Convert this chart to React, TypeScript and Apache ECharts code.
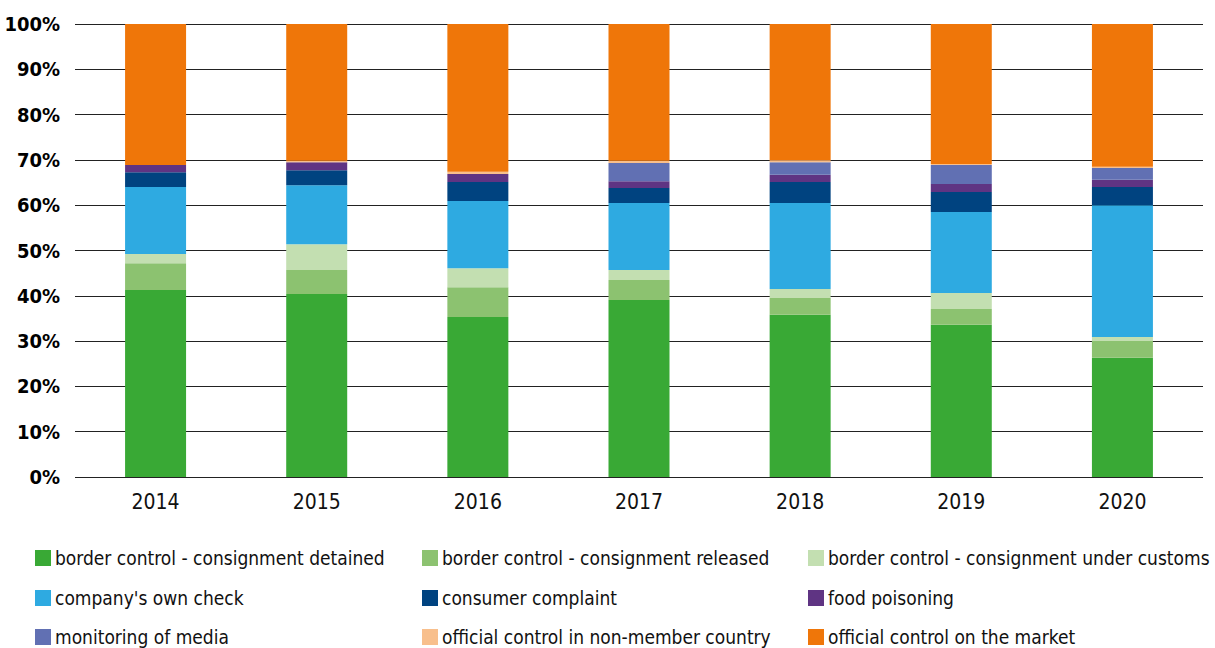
import React, { useEffect, useRef } from "react";
import * as echarts from "echarts";

const years = ["2014", "2015", "2016", "2017", "2018", "2019", "2020"];
const yTicks = [0, 10, 20, 30, 40, 50, 60, 70, 80, 90, 100];

const seriesNames = [
  "border control - consignment detained",
  "border control - consignment released",
  "border control - consignment under customs",
  "company's own check",
  "consumer complaint",
  "food poisoning",
  "monitoring of media",
  "official control in non-member country",
  "official control on the market",
];

const colors = [
  "#39a935",
  "#8cc270",
  "#c3dfb1",
  "#2eaae1",
  "#004380",
  "#5f3483",
  "#6170b3",
  "#f8bf8c",
  "#ef7609",
];

const detained = [41.3, 40.4, 35.3, 39.1, 35.8, 33.6, 26.3];
const released = [5.9, 5.3, 6.6, 4.4, 3.7, 3.5, 3.7];
const underCustoms = [2.0, 5.7, 4.2, 2.2, 2.0, 3.5, 0.9];
const ownCheck = [14.8, 13.0, 14.8, 14.8, 19.0, 17.9, 29.1];
const consumerComplaint = [3.3, 3.3, 4.2, 3.3, 4.6, 4.4, 4.0];
const foodPoisoning = [1.6, 1.8, 1.8, 1.5, 1.6, 1.8, 1.6];
const media = [0, 0, 0, 4.0, 2.8, 4.2, 2.6];
const nonMember = [0, 0.3, 0.5, 0.5, 0.4, 0.2, 0.3];
const market = [31.1, 30.2, 32.6, 30.2, 30.1, 30.9, 31.5];

const seriesData = [
  detained,
  released,
  underCustoms,
  ownCheck,
  consumerComplaint,
  foodPoisoning,
  media,
  nonMember,
  market,
];

const FONT = "'DejaVu Sans Condensed', 'Liberation Sans Narrow', 'Roboto', sans-serif";

export default function App() {
  const ref = useRef<HTMLDivElement>(null);

  useEffect(() => {
    if (!ref.current) return;
    const chart = echarts.init(ref.current, undefined, { renderer: "svg" });

    const colLeft = [35, 422, 808];
    const rowCenter = [558, 598, 637];

    const legends = seriesNames.map((name, i) => ({
      orient: "horizontal",
      left: colLeft[i % 3],
      top: rowCenter[Math.floor(i / 3)] - 10,
      padding: 0,
      itemWidth: 16,
      itemHeight: 16,
      icon: "rect",
      selectedMode: false,
      textStyle: {
        fontFamily: FONT,
        fontSize: 19,
        lineHeight: 20,
        color: "#111",
        padding: [0, 0, 0, -1],
      },
      data: [name],
    }));

    chart.setOption({
      animation: false,
      backgroundColor: "#ffffff",
      grid: { left: 75, right: 12, top: 24, bottom: 171, containLabel: false },
      legend: legends,
      xAxis: {
        type: "category",
        data: years,
        axisLine: { show: false },
        axisTick: { show: false },
        axisLabel: { fontFamily: FONT, fontSize: 21, color: "#111", margin: 14 },
      },
      yAxis: {
        type: "value",
        min: 0,
        max: 100,
        interval: 10,
        axisLine: { show: false },
        axisTick: { show: false },
        axisLabel: {
          fontFamily: FONT,
          fontSize: 20,
          fontWeight: "bold",
          color: "#000",
          margin: 15,
          formatter: (v: number) => (yTicks.includes(v) ? v + "%" : ""),
        },
        splitLine: { show: true, lineStyle: { color: "#222", width: 1.2 } },
      },
      series: seriesNames.map((name, i) => ({
        name,
        type: "bar",
        stack: "total",
        barWidth: 61,
        itemStyle: { color: colors[i] },
        emphasis: { disabled: true },
        data: seriesData[i],
      })),
    });

    return () => chart.dispose();
  }, []);

  return (
    <div
      ref={ref}
      style={{ width: 1215, height: 648, position: "absolute", left: 0, top: 0 }}
    />
  );
}
